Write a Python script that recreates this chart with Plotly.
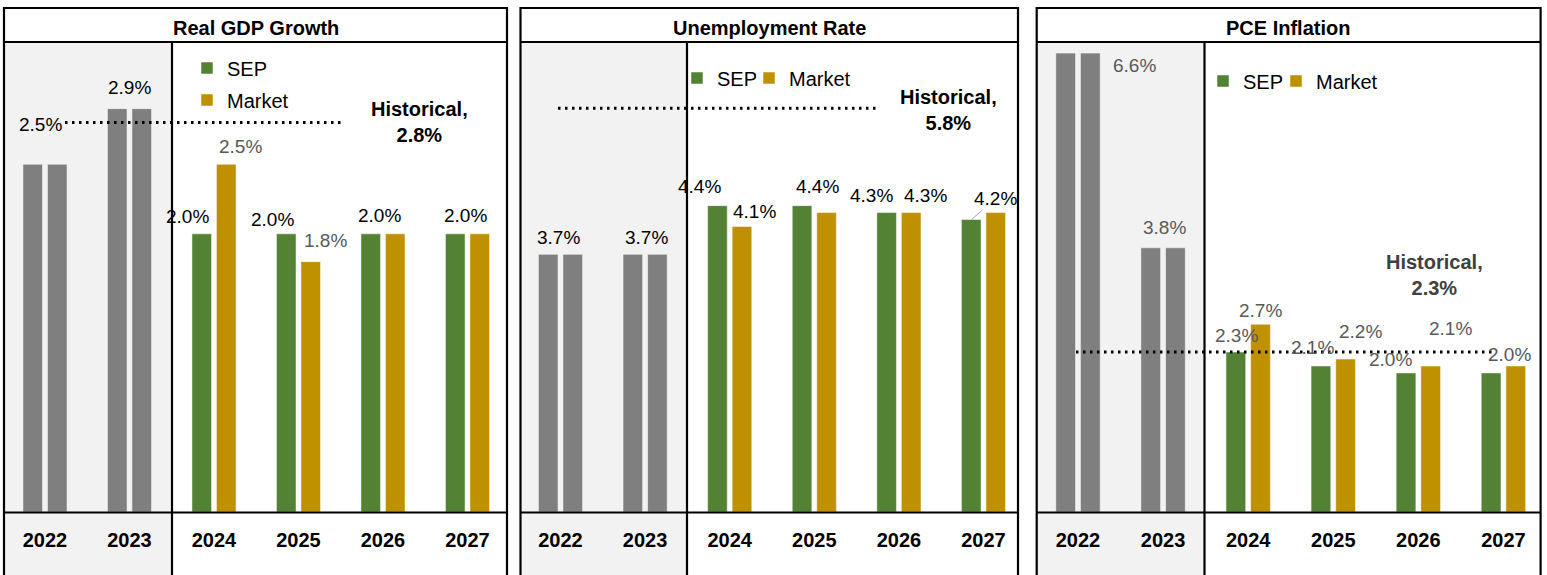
import plotly.graph_objects as go

W, H = 1547, 575

years = ["2022", "2023", "2024", "2025", "2026", "2027"]
hist_years = ["2022", "2023"]
proj_years = ["2024", "2025", "2026", "2027"]

titles = ["Real GDP Growth", "Unemployment Rate", "PCE Inflation"]

gdp_hist = [2.5, 2.9]
gdp_sep = [2.0, 2.0, 2.0, 2.0]
gdp_mkt = [2.5, 1.8, 2.0, 2.0]
gdp_longrun = 2.8

unemp_hist = [3.7, 3.7]
unemp_sep = [4.4, 4.4, 4.3, 4.2]
unemp_mkt = [4.1, 4.3, 4.3, 4.3]
unemp_longrun = 5.8

pce_hist = [6.6, 3.8]
pce_sep = [2.3, 2.1, 2.0, 2.0]
pce_mkt = [2.7, 2.2, 2.1, 2.1]
pce_longrun = 2.3

panels = [
    dict(hist=gdp_hist, sep=gdp_sep, mkt=gdp_mkt, lr=gdp_longrun),
    dict(hist=unemp_hist, sep=unemp_sep, mkt=unemp_mkt, lr=unemp_longrun),
    dict(hist=pce_hist, sep=pce_sep, mkt=pce_mkt, lr=pce_longrun),
]

GRAY = "#7f7f7f"
GREEN = "#548235"
GOLD = "#bf9000"
SHADE = "#f2f2f2"
LBL_GRAY = "#595959"
FONT = "Liberation Sans, Arial, sans-serif"


def px(x):
    return x / W


def py(y):
    return 1 - y / H


# layout geometry (pixels)
xdom = [(2.75, 509.75), (518.2, 1025.8), (1035.45, 1546.0)]
ymax = [3.379, 6.75, 6.76]
boxes = [(4, 507, 172), (520.5, 1018, 687), (1036.7, 1540.6, 1204.5)]
title_cx = [256, 769, 1288]
lr_line = [(65, 342), (558, 878), (1076, 1495)]
lr_text = [(420, 1, "#000000"), (948, -1.5, "#000000"), (1434, 77, "#404040")]
# legend key centres (SEP, Market) per panel
legend_keys = [((207, 68), (207, 100)), ((697, 78), (769, 78)),
               ((1223, 81), (1296, 81))]

# value labels: (series, index, dx, dy, color)
labels = [
    [("hist", 0, -5, 40, "#000"), ("hist", 1, 0, 21, "#000"),
     ("sep", 0, -26.5, 17, "#000"), ("mkt", 0, 26, 18, LBL_GRAY),
     ("sep", 1, -26.5, 14, "#000"), ("mkt", 1, 27, 21, LBL_GRAY),
     ("sep", 2, -3.5, 18, "#000"), ("sep", 3, -2.5, 18, "#000")],
    [("hist", 0, -2, 17, "#000"), ("hist", 1, 1, 17, "#000"),
     ("sep", 0, -30, 19, "#000"), ("mkt", 0, 24.5, 15, "#000"),
     ("sep", 1, 3, 19, "#000"), ("sep", 2, -27.5, 17, "#000"),
     ("mkt", 2, 26.5, 17, "#000")],
    [("hist", 0, 56.5, -12, LBL_GRAY), ("hist", 1, 1, 20, LBL_GRAY),
     ("sep", 0, -12, 17, LBL_GRAY), ("mkt", 0, 12, 14, LBL_GRAY),
     ("sep", 1, -21, 18, LBL_GRAY), ("mkt", 1, 27, 28, LBL_GRAY),
     ("sep", 2, -28, 13, LBL_GRAY), ("mkt", 2, 32, 37, LBL_GRAY),
     ("sep", 3, 6, 18, LBL_GRAY)],
]

fig = go.Figure()
shapes = []
annotations = []
layout_axes = {}
legends = {}


def legend_name(k):
    return "legend" if k == 1 else f"legend{k}"


for i, p in enumerate(panels):
    n = i + 1
    xa = "x" if n == 1 else f"x{n}"
    ya = "y" if n == 1 else f"y{n}"
    lg_sep = legend_name(2 * i + 1)
    lg_mkt = legend_name(2 * i + 2)
    line_style = dict(width=1, color="rgba(255,255,255,0.5)")

    fig.add_trace(go.Bar(x=hist_years, y=p["hist"], offsetgroup="a", xaxis=xa, yaxis=ya,
                         marker=dict(color=GRAY, line=line_style), showlegend=False,
                         name="Actual"))
    fig.add_trace(go.Bar(x=hist_years, y=p["hist"], offsetgroup="b", xaxis=xa, yaxis=ya,
                         marker=dict(color=GRAY, line=line_style), showlegend=False,
                         name="Actual"))
    fig.add_trace(go.Bar(x=proj_years, y=p["sep"], offsetgroup="a", xaxis=xa, yaxis=ya,
                         marker=dict(color=GREEN, line=line_style), name="SEP",
                         legend=lg_sep))
    fig.add_trace(go.Bar(x=proj_years, y=p["mkt"], offsetgroup="b", xaxis=xa, yaxis=ya,
                         marker=dict(color=GOLD, line=line_style), name="Market",
                         legend=lg_mkt))

    for lgname, (cx, cy) in zip((lg_sep, lg_mkt), legend_keys[i]):
        legends[lgname] = dict(x=px(cx - 20), y=py(cy - 19.5), xanchor="left",
                               yanchor="top", orientation="v", bgcolor="rgba(0,0,0,0)",
                               borderwidth=0, font=dict(family=FONT, size=20, color="#000"))

    kx = "xaxis" if n == 1 else f"xaxis{n}"
    ky = "yaxis" if n == 1 else f"yaxis{n}"
    layout_axes[kx] = dict(domain=[px(xdom[i][0]), px(xdom[i][1])], type="category",
                           categoryorder="array", categoryarray=years, range=[-0.5, 5.5],
                           showgrid=False, zeroline=False, showline=False, ticks="",
                           tickfont=dict(family=FONT, size=20, color="#000", weight="bold"),
                           ticklabelstandoff=14, anchor=ya, fixedrange=True)
    layout_axes[ky] = dict(domain=[py(512), py(42)], range=[0, ymax[i]], visible=False,
                           anchor=xa, fixedrange=True)

    # panel shading and frames
    L, R, D = boxes[i]
    shapes.append(dict(type="rect", xref="paper", yref="paper", x0=px(L), x1=px(D),
                       y0=py(600), y1=py(42), fillcolor=SHADE, line=dict(width=0),
                       layer="below"))
    shapes.append(dict(type="rect", xref="paper", yref="paper", x0=px(L), x1=px(R),
                       y0=py(600), y1=py(8), line=dict(color="#000", width=2.2),
                       layer="above"))
    shapes.append(dict(type="line", xref="paper", yref="paper", x0=px(L), x1=px(R),
                       y0=py(42), y1=py(42), line=dict(color="#000", width=2.2)))
    shapes.append(dict(type="line", xref="paper", yref="paper", x0=px(L), x1=px(R),
                       y0=py(512.5), y1=py(512.5), line=dict(color="#000", width=2.2)))
    shapes.append(dict(type="line", xref="paper", yref="paper", x0=px(D), x1=px(D),
                       y0=py(600), y1=py(42), line=dict(color="#000", width=2.2)))
    # long-run dotted line
    shapes.append(dict(type="line", xref="paper", yref=ya, x0=px(lr_line[i][0]),
                       x1=px(lr_line[i][1]), y0=p["lr"], y1=p["lr"],
                       line=dict(color="#000", width=3, dash="2.5px,4.5px"), layer="above"))

    # title
    annotations.append(dict(text=titles[i], xref="paper", yref="paper", x=px(title_cx[i]),
                            y=py(28), xanchor="center", yanchor="middle", showarrow=False,
                            font=dict(family=FONT, size=20, color="#000", weight="bold")))
    # long-run label
    tx, sh, col = lr_text[i]
    annotations.append(dict(text=f"Historical,<br>{p['lr']:.1f}%", xref="paper", yref=ya,
                            x=px(tx), y=p["lr"], yshift=sh, xanchor="center",
                            yanchor="middle", showarrow=False, align="center",
                            font=dict(family=FONT, size=20, color=col, weight="bold")))
    # value labels (x given as category index)
    for ser, idx, dx, dy, col in labels[i]:
        cat = (hist_years if ser == "hist" else proj_years)[idx]
        val = p[ser][idx]
        annotations.append(dict(text=f"{val:.1f}%", xref=xa, yref=ya, x=years.index(cat),
                                y=val, xshift=dx, yshift=dy, xanchor="center",
                                yanchor="middle", showarrow=False,
                                font=dict(family=FONT, size=19, color=col)))

# 2027 unemployment SEP label with leader line
annotations.append(dict(text=f"{unemp_sep[3]:.1f}%", xref="x2", yref="y2",
                        x=years.index("2027"), y=unemp_sep[3], xshift=-12, showarrow=True,
                        arrowhead=0, arrowwidth=1, arrowcolor="#a6a6a6", ax=24, ay=-21,
                        standoff=0, font=dict(family=FONT, size=19, color="#000")))

fig.update_layout(width=W, height=H, margin=dict(l=0, r=0, t=0, b=0),
                  paper_bgcolor="white", plot_bgcolor="rgba(0,0,0,0)",
                  barmode="group", bargap=0.42, bargroupgap=0.2,
                  shapes=shapes, annotations=annotations,
                  font=dict(family=FONT), **layout_axes, **legends)

fig.write_html("out.html", config={"displayModeBar": False},
               post_script="document.body.style.margin='0';document.body.style.overflow='hidden';")
